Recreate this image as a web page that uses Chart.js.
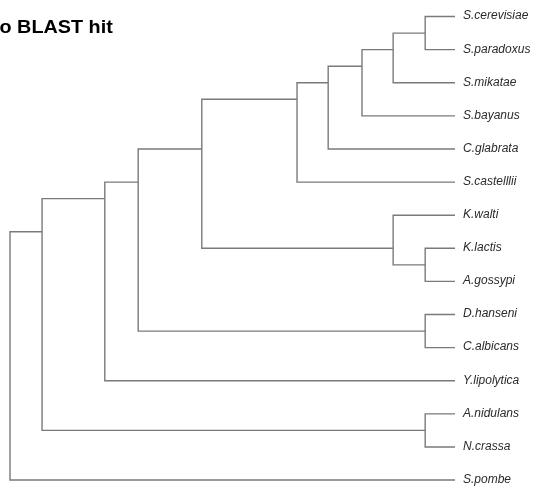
<!DOCTYPE html>
<html>
<head>
<meta charset="utf-8">
<script src="https://cdn.jsdelivr.net/npm/chart.js@4/dist/chart.umd.min.js"></script>
<style>
  body { margin: 0; background: #fff; }
  canvas { display: block; }
</style>
</head>
<body>
<canvas id="myChart" width="540" height="489"></canvas>
<script>

// tips, top to bottom
var tipNames = ["S.cerevisiae", "S.paradoxus", "S.mikatae", "S.bayanus", "C.glabrata",
  "S.castelllii", "K.walti", "K.lactis", "A.gossypi", "D.hanseni", "C.albicans",
  "Y.lipolytica", "A.nidulans", "N.crassa", "S.pombe"];

// merges: index < 15 is a tip, index >= 15 is merge (index - 15)
var mergeLeft  = [0, 15, 16, 17, 18, 7, 6, 19, 9, 22, 24, 12, 25, 27];
var mergeRight = [1, 2, 3, 4, 5, 8, 20, 21, 10, 23, 11, 13, 26, 14];
// node depth from the root (tips are at 1)
var mergeDepth = [0.933, 0.861, 0.791, 0.715, 0.645, 0.933, 0.861, 0.431, 0.933, 0.288, 0.213, 0.933, 0.072, 0];

var title = "o BLAST hit";

function buildTree() {
  var nTips = tipNames.length;
  var xs = [], tipsOf = [];
  for (var i = 0; i < nTips; i++) {
    xs.push(1);
    tipsOf.push([i]);
  }
  for (var m = 0; m < mergeLeft.length; m++) {
    xs.push(mergeDepth[m]);
    tipsOf.push(tipsOf[mergeLeft[m]].concat(tipsOf[mergeRight[m]]));
  }
  // node at the mean of all its tips
  var ys = tipsOf.map(function(t) {
    return t.reduce(function(a, b) { return a + b; }, 0) / t.length;
  });

  var datasets = [];
  for (var m = 0; m < mergeLeft.length; m++) {
    var a = mergeLeft[m], b = mergeRight[m], k = nTips + m;
    datasets.push({
      data: [
        { x: xs[a], y: ys[a] },
        { x: xs[k], y: ys[a] },
        { x: xs[k], y: ys[b] },
        { x: xs[b], y: ys[b] }
      ],
      showLine: true,
      borderColor: "#7a7a7a",
      borderWidth: 1.4,
      pointRadius: 0,
      tension: 0
    });
  }
  return datasets;
}

var textPlugin = {
  id: "treeText",
  afterDatasetsDraw: function(chart) {
    var ctx = chart.ctx;
    var xScale = chart.scales.x, yScale = chart.scales.y;
    ctx.save();
    ctx.fillStyle = "#2a2a2a";
    ctx.font = "italic 12px 'Liberation Sans', Arial, sans-serif";
    ctx.textBaseline = "middle";
    ctx.textAlign = "left";
    for (var i = 0; i < tipNames.length; i++) {
      ctx.fillText(tipNames[i], xScale.getPixelForValue(1) + 8, yScale.getPixelForValue(i) - 0.5);
    }
    // title, a bit wide like the original
    ctx.fillStyle = "#000";
    ctx.font = "bold 18px 'Liberation Sans', Arial, sans-serif";
    ctx.textBaseline = "alphabetic";
    ctx.translate(-0.5, 33);
    ctx.scale(1.1, 1);
    ctx.fillText(title, 0, 0);
    ctx.restore();
  }
};

function init() {
  var ctx = document.getElementById("myChart").getContext("2d");
  var chart = new Chart(ctx, {
    type: "scatter",
    data: { datasets: buildTree() },
    options: {
      responsive: false,
      animation: false,
      layout: { padding: { left: 0, right: 85, top: 0, bottom: 0 } },
      plugins: { legend: { display: false }, tooltip: { enabled: false } },
      scales: {
        x: { type: "linear", min: -0.0225, max: 1, display: false },
        y: { type: "linear", min: -0.5, max: 14.27, reverse: true, display: false }
      }
    },
    plugins: [textPlugin]
  });
}

init();
</script>
</body>
</html>
